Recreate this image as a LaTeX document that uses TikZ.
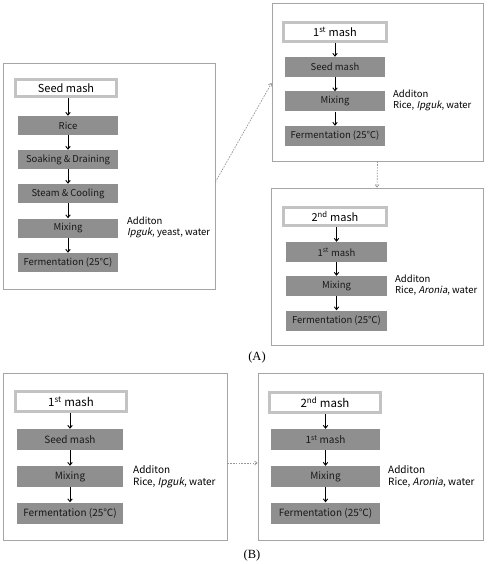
\documentclass[tikz,border=0pt]{standalone}
\usepackage{fontspec}
\setmainfont{Noto Sans CJK KR}[AutoFakeSlant=0.2]
\newfontfamily\labfont{Liberation Serif}
\usetikzlibrary{arrows.meta,calc}
\definecolor{boxgray}{RGB}{143,143,143}
\definecolor{titleedge}{RGB}{195,195,195}
\definecolor{paneledge}{RGB}{165,165,165}
\definecolor{dashgray}{RGB}{150,150,150}
\tikzset{
  panel/.style={draw=paneledge, line width=0.8pt, inner sep=0pt},
  titlebox/.style={draw=titleedge, line width=2.6pt, fill=white, inner sep=0pt, font=\fontsize{11}{13}\selectfont},
  stepbox/.style={fill=boxgray, inner sep=0pt, text=black!90, font=\fontsize{9.5}{11}\selectfont},
  flow/.style={-{Straight Barb[length=2.8pt,width=4.5pt]}, line width=0.9pt, black},
  link/.style={-{Straight Barb[length=2.5pt,width=4pt]}, dashgray, line width=0.7pt, dash pattern=on 1.6pt off 1.2pt},
  addtext/.style={anchor=north west, inner sep=0pt, align=left, font=\fontsize{9.5}{11}\selectfont},
  sublabel/.style={font=\labfont\fontsize{12.5}{14}\selectfont, inner sep=0pt}
}
\begin{document}
\begin{tikzpicture}[x=1pt,y=-1pt]
\useasboundingbox (0,0) rectangle (488,564);
% ---------- Panel A1 ----------
\node[panel, minimum width=212, minimum height=226] (pa1) at (109,176) {};
\node[titlebox, minimum width=101, minimum height=17.5] (a1t) at (66,88) {Seed mash};
\node[stepbox, minimum width=100, minimum height=19] (a1s1) at (68,125.5) {Rice};
\node[stepbox, minimum width=100, minimum height=19] (a1s2) at (68,159.5) {Soaking \& Draining};
\node[stepbox, minimum width=100, minimum height=19] (a1s3) at (68,193.5) {Steam \& Cooling};
\node[stepbox, minimum width=100, minimum height=19] (a1s4) at (68,228) {Mixing};
\node[stepbox, minimum width=100, minimum height=19] (a1s5) at (68,262.5) {Fermentation (25℃)};
\draw[flow] (a1t.south -| a1s1.north) -- (a1s1.north);
\draw[flow] (a1s1) -- (a1s2);
\draw[flow] (a1s2) -- (a1s3);
\draw[flow] (a1s3) -- (a1s4);
\draw[flow] (a1s4) -- (a1s5);
\node[addtext] (a1add) at (127,217) {Additon\\\textit{Ipguk}, yeast, water};
% ---------- Panel A2 ----------
\node[panel, minimum width=211, minimum height=158] (pa2) at (377.5,82) {};
\node[titlebox, minimum width=103, minimum height=19.5] (a2t) at (335,32) {1\textsuperscript{st} mash};
\node[stepbox, minimum width=100, minimum height=20] (a2s1) at (335,67) {Seed mash};
\node[stepbox, minimum width=100, minimum height=20] (a2s2) at (335,101.5) {Mixing};
\node[stepbox, minimum width=100, minimum height=20] (a2s3) at (335,136) {Fermentation (25℃)};
\draw[flow] (a2t) -- (a2s1);
\draw[flow] (a2s1) -- (a2s2);
\draw[flow] (a2s2) -- (a2s3);
\node[addtext] (a2add) at (393,90) {Additon\\Rice, \textit{Ipguk}, water};
% ---------- Panel A3 ----------
\node[panel, minimum width=212, minimum height=157] (pa3) at (377,266.5) {};
\node[titlebox, minimum width=103, minimum height=18.5] (a3t) at (335,216.5) {2\textsuperscript{nd} mash};
\node[stepbox, minimum width=101, minimum height=20] (a3s1) at (336.5,252) {1\textsuperscript{st} mash};
\node[stepbox, minimum width=101, minimum height=20] (a3s2) at (336.5,286) {Mixing};
\node[stepbox, minimum width=101, minimum height=20] (a3s3) at (336.5,320.5) {Fermentation (25℃)};
\draw[flow] (a3t.south -| a3s1.north) -- (a3s1.north);
\draw[flow] (a3s1) -- (a3s2);
\draw[flow] (a3s2) -- (a3s3);
\node[addtext] (a3add) at (395,275) {Additon\\Rice, \textit{Aronia}, water};
% links A
\draw[link] ([yshift=-6pt]pa1.east) -- ([yshift=-1pt]pa2.west);
\draw[link] (pa2.south) -- (pa3.north);
\node[sublabel] (labA) at (257,357) {(A)};
% ---------- Panel B1 ----------
\node[panel, minimum width=224, minimum height=167] (pb1) at (115,456.5) {};
\node[titlebox, minimum width=111, minimum height=20.5, font=\fontsize{11.5}{13}\selectfont] (b1t) at (71,401.5) {1\textsuperscript{st} mash};
\node[stepbox, minimum width=106, minimum height=21, font=\fontsize{10}{12}\selectfont] (b1s1) at (70,439.5) {Seed mash};
\node[stepbox, minimum width=106, minimum height=21, font=\fontsize{10}{12}\selectfont] (b1s2) at (70,476.5) {Mixing};
\node[stepbox, minimum width=106, minimum height=21, font=\fontsize{10}{12}\selectfont] (b1s3) at (70,513) {Fermentation (25℃)};
\draw[flow] (b1t.south -| b1s1.north) -- (b1s1.north);
\draw[flow] (b1s1) -- (b1s2);
\draw[flow] (b1s2) -- (b1s3);
\node[addtext, font=\fontsize{10}{12}\selectfont] (b1add) at (133,465) {Additon\\Rice, \textit{Ipguk}, water};
% ---------- Panel B2 ----------
\node[panel, minimum width=225, minimum height=167] (pb2) at (370.5,456.5) {};
\node[titlebox, minimum width=111, minimum height=20.5, font=\fontsize{11.5}{13}\selectfont] (b2t) at (325,402.5) {2\textsuperscript{nd} mash};
\node[stepbox, minimum width=109, minimum height=21, font=\fontsize{10}{12}\selectfont] (b2s1) at (325.5,439.5) {1\textsuperscript{st} mash};
\node[stepbox, minimum width=109, minimum height=21, font=\fontsize{10}{12}\selectfont] (b2s2) at (325.5,476.5) {Mixing};
\node[stepbox, minimum width=109, minimum height=21, font=\fontsize{10}{12}\selectfont] (b2s3) at (325.5,513) {Fermentation (25℃)};
\draw[flow] (b2t.south -| b2s1.north) -- (b2s1.north);
\draw[flow] (b2s1) -- (b2s2);
\draw[flow] (b2s2) -- (b2s3);
\node[addtext, font=\fontsize{10}{12}\selectfont] (b2add) at (388,465) {Additon\\Rice, \textit{Aronia}, water};
% link B
\draw[link] ([yshift=-6.5pt]pb1.east) -- ([yshift=-6.5pt]pb2.west);
\node[sublabel] (labB) at (252,555) {(B)};
\end{tikzpicture}
\end{document}
